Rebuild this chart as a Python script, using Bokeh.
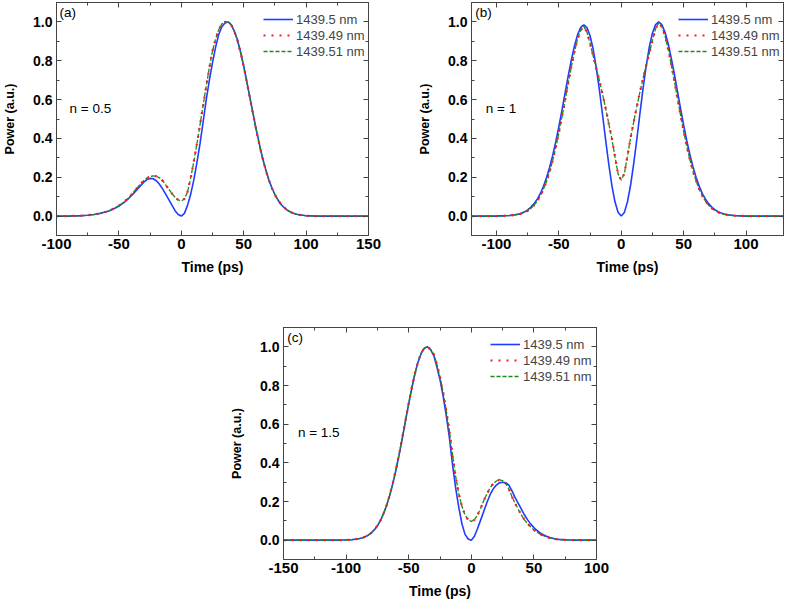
from bokeh.plotting import figure
from bokeh.models import (FixedTicker, LinearAxis, Range1d, Legend, LegendItem,
                          Label, Spacer, PrintfTickFormatter, CustomJSTickFormatter)
from bokeh.layouts import row, column
from bokeh.embed import file_html
from bokeh.resources import INLINE

FONT = "Liberation Sans"
AX = "#444444"

series_labels = ["1439.5 nm", "1439.49 nm", "1439.51 nm"]
STEP = 2.5

# ---- panel (a): n = 0.5, time -100 .. 150 ps ----
time_a = [-100 + STEP * i for i in range(101)]
blue_a = [0, 0, 0, 0, 0, 0.001, 0.001, 0.001, 0.002, 0.003,
          0.004, 0.006, 0.008, 0.011, 0.014, 0.018, 0.022, 0.028, 0.035, 0.043,
          0.052, 0.063, 0.075, 0.089, 0.105, 0.122, 0.140, 0.158, 0.175, 0.188,
          0.194, 0.192, 0.182, 0.164, 0.140, 0.113, 0.085, 0.056, 0.028, 0.008,
          0.000, 0.014, 0.055, 0.112, 0.185, 0.275, 0.373, 0.485, 0.600, 0.700,
          0.790, 0.870, 0.935, 0.975, 0.995, 1.000, 0.986, 0.953, 0.907, 0.845,
          0.773, 0.692, 0.610, 0.527, 0.447, 0.372, 0.303, 0.243, 0.190, 0.147,
          0.111, 0.083, 0.060, 0.043, 0.030, 0.021, 0.014, 0.009, 0.006, 0.004,
          0.002, 0.001, 0.001, 0, 0, 0, 0, 0, 0, 0,
          0, 0, 0, 0, 0, 0, 0, 0, 0, 0,
          0]
red_a = [0, 0, 0, 0, 0, 0.001, 0.001, 0.001, 0.002, 0.003,
         0.004, 0.006, 0.008, 0.011, 0.014, 0.018, 0.023, 0.029, 0.036, 0.044,
         0.054, 0.065, 0.078, 0.093, 0.110, 0.129, 0.148, 0.166, 0.183, 0.196,
         0.203, 0.207, 0.205, 0.197, 0.182, 0.161, 0.138, 0.116, 0.097, 0.083,
         0.077, 0.089, 0.125, 0.195, 0.280, 0.372, 0.470, 0.570, 0.670, 0.765,
         0.850, 0.912, 0.960, 0.990, 1.000, 0.998, 0.985, 0.951, 0.905, 0.842,
         0.770, 0.690, 0.607, 0.525, 0.445, 0.370, 0.300, 0.241, 0.188, 0.145,
         0.110, 0.082, 0.060, 0.043, 0.030, 0.021, 0.014, 0.009, 0.006, 0.004,
         0.002, 0.001, 0.001, 0, 0, 0, 0, 0, 0, 0,
         0, 0, 0, 0, 0, 0, 0, 0, 0, 0,
         0]
green_a = [0, 0, 0, 0, 0, 0.001, 0.001, 0.001, 0.002, 0.003,
           0.004, 0.006, 0.008, 0.011, 0.014, 0.018, 0.023, 0.029, 0.036, 0.044,
           0.054, 0.065, 0.078, 0.093, 0.110, 0.129, 0.148, 0.166, 0.183, 0.196,
           0.203, 0.207, 0.205, 0.197, 0.182, 0.161, 0.138, 0.116, 0.097, 0.083,
           0.077, 0.089, 0.125, 0.195, 0.280, 0.372, 0.470, 0.570, 0.670, 0.765,
           0.850, 0.912, 0.960, 0.990, 1.000, 0.998, 0.985, 0.951, 0.905, 0.842,
           0.770, 0.690, 0.607, 0.525, 0.445, 0.370, 0.300, 0.241, 0.188, 0.145,
           0.110, 0.082, 0.060, 0.043, 0.030, 0.021, 0.014, 0.009, 0.006, 0.004,
           0.002, 0.001, 0.001, 0, 0, 0, 0, 0, 0, 0,
           0, 0, 0, 0, 0, 0, 0, 0, 0, 0,
           0]
xticks_a = [-100, -50, 0, 50, 100, 150]

# ---- panel (b): n = 1, time -120 .. 130 ps ----
time_b = [-120 + STEP * i for i in range(101)]
blue_b = [0, 0, 0, 0, 0, 0, 0, 0, 0, 0.001,
          0.001, 0.002, 0.003, 0.005, 0.007, 0.010, 0.015, 0.022, 0.032, 0.045,
          0.063, 0.085, 0.114, 0.151, 0.196, 0.249, 0.311, 0.382, 0.461, 0.546,
          0.634, 0.722, 0.804, 0.876, 0.934, 0.972, 0.985, 0.971, 0.929, 0.859,
          0.763, 0.649, 0.522, 0.391, 0.267, 0.157, 0.072, 0.019, 0.000, 0.019,
          0.074, 0.160, 0.271, 0.397, 0.530, 0.659, 0.775, 0.872, 0.943, 0.986,
          1.000, 0.986, 0.948, 0.890, 0.816, 0.733, 0.644, 0.554, 0.468, 0.388,
          0.316, 0.253, 0.199, 0.153, 0.116, 0.087, 0.064, 0.046, 0.033, 0.023,
          0.016, 0.011, 0.007, 0.005, 0.003, 0.002, 0.001, 0.001, 0, 0,
          0, 0, 0, 0, 0, 0, 0, 0, 0, 0,
          0]
red_b = [0, 0, 0, 0, 0, 0, 0, 0, 0, 0.001,
         0.001, 0.002, 0.002, 0.004, 0.006, 0.009, 0.013, 0.020, 0.027, 0.039,
         0.055, 0.076, 0.102, 0.136, 0.177, 0.226, 0.285, 0.353, 0.428, 0.511,
         0.597, 0.685, 0.769, 0.846, 0.913, 0.957, 0.977, 0.948, 0.889, 0.825,
         0.761, 0.697, 0.628, 0.555, 0.476, 0.398, 0.304, 0.216, 0.185, 0.220,
         0.310, 0.405, 0.485, 0.565, 0.640, 0.710, 0.775, 0.840, 0.905, 0.965,
         0.995, 0.975, 0.930, 0.862, 0.783, 0.698, 0.608, 0.520, 0.436, 0.359,
         0.290, 0.230, 0.180, 0.138, 0.104, 0.077, 0.056, 0.040, 0.028, 0.020,
         0.013, 0.009, 0.006, 0.004, 0.002, 0.002, 0.001, 0.001, 0, 0,
         0, 0, 0, 0, 0, 0, 0, 0, 0, 0,
         0]
green_b = [0, 0, 0, 0, 0, 0, 0, 0, 0, 0.001,
           0.001, 0.002, 0.002, 0.004, 0.006, 0.009, 0.013, 0.020, 0.027, 0.039,
           0.055, 0.076, 0.102, 0.136, 0.177, 0.226, 0.285, 0.353, 0.428, 0.511,
           0.597, 0.685, 0.769, 0.846, 0.913, 0.957, 0.977, 0.948, 0.889, 0.825,
           0.761, 0.697, 0.628, 0.555, 0.476, 0.398, 0.304, 0.216, 0.185, 0.220,
           0.310, 0.405, 0.485, 0.565, 0.640, 0.710, 0.775, 0.840, 0.905, 0.965,
           0.995, 0.975, 0.930, 0.862, 0.783, 0.698, 0.608, 0.520, 0.436, 0.359,
           0.290, 0.230, 0.180, 0.138, 0.104, 0.077, 0.056, 0.040, 0.028, 0.020,
           0.013, 0.009, 0.006, 0.004, 0.002, 0.002, 0.001, 0.001, 0, 0,
           0, 0, 0, 0, 0, 0, 0, 0, 0, 0,
           0]
xticks_b = [-100, -50, 0, 50, 100]

# ---- panel (c): n = 1.5, time -150 .. 100 ps ----
time_c = [-150 + STEP * i for i in range(101)]
blue_c = [0, 0, 0, 0, 0, 0, 0, 0, 0, 0,
          0, 0, 0, 0, 0, 0, 0, 0, 0, 0.001,
          0.001, 0.002, 0.003, 0.005, 0.007, 0.011, 0.017, 0.025, 0.037, 0.053,
          0.074, 0.102, 0.138, 0.182, 0.235, 0.297, 0.368, 0.446, 0.531, 0.618,
          0.705, 0.787, 0.861, 0.922, 0.967, 0.993, 1.000, 0.985, 0.955, 0.897,
          0.830, 0.745, 0.645, 0.530, 0.390, 0.270, 0.170, 0.085, 0.030, 0.006,
          0.000, 0.020, 0.060, 0.105, 0.150, 0.195, 0.235, 0.265, 0.285, 0.297,
          0.300, 0.297, 0.285, 0.255, 0.220, 0.190, 0.160, 0.130, 0.105, 0.083,
          0.065, 0.050, 0.038, 0.028, 0.020, 0.014, 0.010, 0.006, 0.004, 0.003,
          0.002, 0.001, 0.001, 0, 0, 0, 0, 0, 0, 0,
          0]
red_c = [0, 0, 0, 0, 0, 0, 0, 0, 0, 0,
         0, 0, 0, 0, 0, 0, 0, 0, 0, 0.001,
         0.001, 0.002, 0.003, 0.005, 0.007, 0.011, 0.017, 0.025, 0.037, 0.054,
         0.075, 0.103, 0.140, 0.184, 0.237, 0.300, 0.372, 0.450, 0.535, 0.622,
         0.708, 0.790, 0.863, 0.924, 0.968, 0.994, 1.000, 0.987, 0.962, 0.910,
         0.845, 0.765, 0.670, 0.565, 0.440, 0.330, 0.240, 0.175, 0.130, 0.105,
         0.097, 0.105, 0.130, 0.165, 0.205, 0.240, 0.270, 0.292, 0.306, 0.312,
         0.308, 0.293, 0.265, 0.225, 0.190, 0.160, 0.130, 0.105, 0.085, 0.068,
         0.053, 0.041, 0.031, 0.023, 0.017, 0.012, 0.008, 0.005, 0.004, 0.002,
         0.002, 0.001, 0.001, 0, 0, 0, 0, 0, 0, 0,
         0]
green_c = [0, 0, 0, 0, 0, 0, 0, 0, 0, 0,
           0, 0, 0, 0, 0, 0, 0, 0, 0, 0.001,
           0.001, 0.002, 0.003, 0.005, 0.007, 0.011, 0.017, 0.025, 0.037, 0.054,
           0.075, 0.103, 0.140, 0.184, 0.237, 0.300, 0.372, 0.450, 0.535, 0.622,
           0.708, 0.790, 0.863, 0.924, 0.968, 0.994, 1.000, 0.987, 0.962, 0.910,
           0.845, 0.765, 0.670, 0.565, 0.440, 0.330, 0.240, 0.175, 0.130, 0.105,
           0.097, 0.105, 0.130, 0.165, 0.205, 0.240, 0.270, 0.292, 0.306, 0.312,
           0.308, 0.293, 0.265, 0.225, 0.190, 0.160, 0.130, 0.105, 0.085, 0.068,
           0.053, 0.041, 0.031, 0.023, 0.017, 0.012, 0.008, 0.005, 0.004, 0.002,
           0.002, 0.001, 0.001, 0, 0, 0, 0, 0, 0, 0,
           0]
xticks_c = [-150, -100, -50, 0, 50, 100]

yticks = [0.0, 0.2, 0.4, 0.6, 0.8, 1.0]
yminor = [0.1, 0.3, 0.5, 0.7, 0.9]


def style_axis(ax, show_labels, label_size="14px"):
    ax.axis_line_color = AX
    ax.axis_line_width = 1
    ax.major_tick_line_color = AX
    ax.minor_tick_line_color = AX
    ax.major_tick_in = 5
    ax.major_tick_out = 0
    ax.minor_tick_in = 3
    ax.minor_tick_out = 0
    if show_labels:
        ax.major_label_text_font = FONT
        ax.major_label_text_font_style = "bold"
        ax.major_label_text_font_size = label_size
        ax.major_label_text_color = "#000000"
        ax.axis_label_text_font = FONT
        ax.axis_label_text_font_style = "bold"
        ax.axis_label_text_color = "#000000"
    else:
        ax.formatter = CustomJSTickFormatter(code="return ''")
        ax.major_label_standoff = 0


def make_panel(t, blue, red, green, xr, xticks, tag, ntext, tag_x, n_x,
               width, height, bl, br, bt, bb, legend_y):
    p = figure(width=width, height=height, x_range=Range1d(*xr),
               y_range=Range1d(-0.1, 1.1), output_backend="svg",
               toolbar_location=None, min_border_left=bl, min_border_right=br,
               min_border_top=bt, min_border_bottom=bb)
    p.xgrid.visible = False
    p.ygrid.visible = False
    p.outline_line_color = AX
    p.background_fill_color = "white"
    p.border_fill_color = "white"

    xminor = [v + 25 for v in xticks[:-1]]
    xt = FixedTicker(ticks=xticks, minor_ticks=xminor)
    yt = FixedTicker(ticks=yticks, minor_ticks=yminor)

    p.xaxis.ticker = xt
    p.yaxis.ticker = yt
    p.xaxis.formatter = PrintfTickFormatter(format="%d")
    p.yaxis.formatter = PrintfTickFormatter(format="%.1f")
    p.xaxis.axis_label = "Time (ps)"
    p.yaxis.axis_label = "Power (a.u.)"
    style_axis(p.xaxis[0], True, "15px")
    style_axis(p.yaxis[0], True, "14px")
    p.xaxis.axis_label_text_font_size = "14px"
    p.yaxis.axis_label_text_font_size = "12.5px"
    p.xaxis.major_label_standoff = 3
    p.xaxis.axis_label_standoff = 7
    p.yaxis.major_label_standoff = 4
    p.yaxis.axis_label_standoff = 13

    top = LinearAxis(ticker=xt)
    style_axis(top, False)
    p.add_layout(top, "above")
    right = LinearAxis(ticker=yt)
    style_axis(right, False)
    p.add_layout(right, "right")

    rb = p.line(t, blue, line_color="#1f3cff", line_width=1.6)
    rg = p.line(t, green, line_color="#1a8a1a", line_width=1.3, line_dash="4 2")
    rr = p.line(t, red, line_color="#ff1a1a", line_width=2.2, line_dash="2 6")

    legend = Legend(items=[LegendItem(label=series_labels[0], renderers=[rb]),
                           LegendItem(label=series_labels[1], renderers=[rr]),
                           LegendItem(label=series_labels[2], renderers=[rg])],
                    location=(207, legend_y), label_text_font=FONT,
                    label_text_font_size="13px", glyph_width=30, glyph_height=16,
                    label_height=16, spacing=0, padding=0, margin=0,
                    label_standoff=3, background_fill_alpha=0,
                    border_line_alpha=0)
    p.add_layout(legend)

    p.add_layout(Label(x=tag_x, y=1.05, text=tag, text_font=FONT,
                       text_font_size="13.5px", text_baseline="middle",
                       text_align="left", text_color="#000000"))
    p.add_layout(Label(x=n_x, y=0.555, text=ntext, text_font=FONT,
                       text_font_size="13.5px", text_baseline="middle",
                       text_align="left", text_color="#000000"))
    return p


pA = make_panel(time_a, blue_a, red_a, green_a, (-100, 150), xticks_a,
                "(a)", "n = 0.5", -97.5, -89.5, 415, 280, 55, 47, 2, 45, 176)
pB = make_panel(time_b, blue_b, red_b, green_b, (-120, 130), xticks_b,
                "(b)", "n = 1", -117, -108.5, 372, 280, 55, 4, 2, 45, 176)
pC = make_panel(time_c, blue_c, red_c, green_c, (-150, 100), xticks_c,
                "(c)", "n = 1.5", -147, -138.5, 387, 324, 55, 18, 47, 45, 175)

layout = column(row(pA, pB), row(Spacer(width=227, height=324), pC))

open("out.html", "w").write(file_html(layout, INLINE))
